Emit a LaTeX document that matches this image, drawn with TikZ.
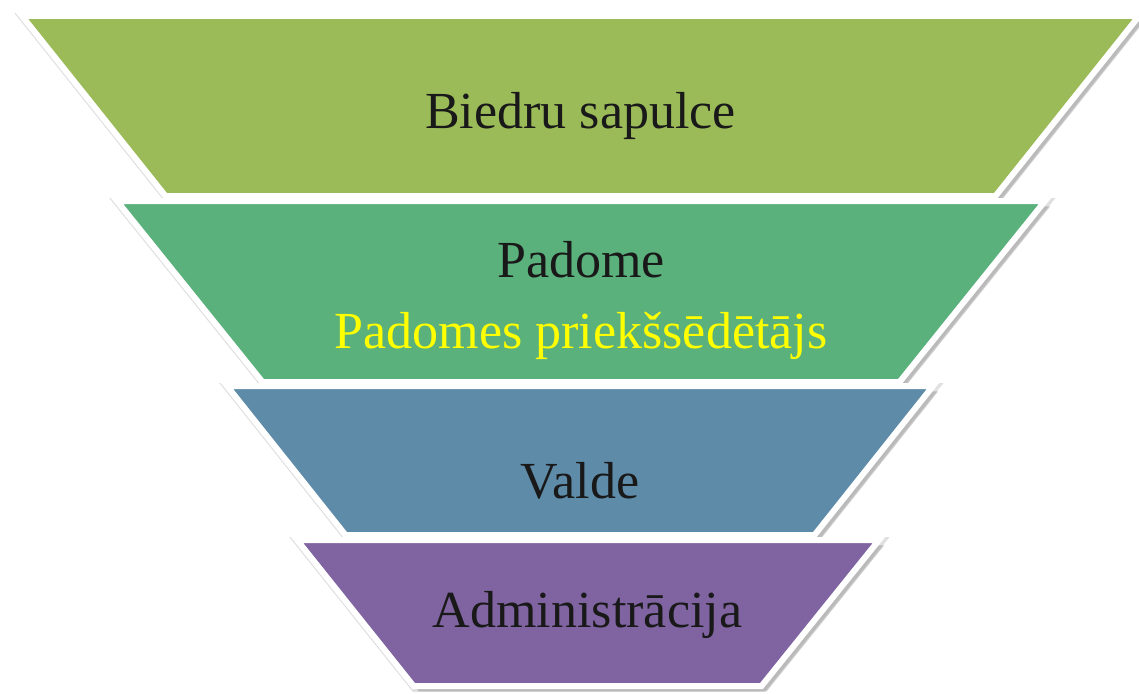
\documentclass[tikz,border=0pt]{standalone}
\usepackage{fontspec}
\setmainfont{Liberation Serif}
\usepackage{xcolor}
\definecolor{Col1}{RGB}{155,187,89}
\definecolor{Col2}{RGB}{91,177,124}
\definecolor{Col3}{RGB}{94,139,168}
\definecolor{Col4}{RGB}{128,100,161}
\definecolor{Col5}{RGB}{255,255,0}
\usepackage{tikz}
\usetikzlibrary{shadows}
\tikzstyle{Layer}=[draw=white,line width=1.7pt,line join=miter,
preaction={draw=black!12,line width=2.5pt,
    transform canvas={xshift=0.4pt,yshift=-0.4pt}},
drop shadow={shadow xshift=1.5pt,shadow yshift=-1.5pt,opacity=.25,fill=black!70}]
\tikzstyle{NodeST}=[anchor=base,inner sep=0pt,text=black!90,
font=\fontsize{14.8}{17}\selectfont]

\begin{document}
\begin{tikzpicture}[x=0.01cm,y=-0.01cm]
            \useasboundingbox(0,0)rectangle(1139,693);
            \draw[Layer,fill=Col1](22,16)--(1139,16)--(995.5,196)
                --(165.5,196)--cycle;
            \draw[Layer,fill=Col2](117,201)--(1045,201)--(899.5,382)
                --(262.5,382)--cycle;
            \draw[Layer,fill=Col3](227,386)--(933,386)--(814.5,535)
                --(345.5,535)--cycle;
            \draw[Layer,fill=Col4](297,540)--(879,540)--(761.5,686)
                --(413.5,686)--cycle;
            \node[NodeST](biedri)at(580.50,128.00){Biedru sapulce};
            \node[NodeST](padome)at(581.00,277.00){Padome};
            \node[NodeST,text=Col5](priekss)at(581.00,348.00)
                {Padomes priekšsēdētājs};
            \node[NodeST](valde)at(580.00,498.00){Valde};
            \node[NodeST](admin)at(587.50,627.00){Administrācija};
        \end{tikzpicture}
\end{document}
